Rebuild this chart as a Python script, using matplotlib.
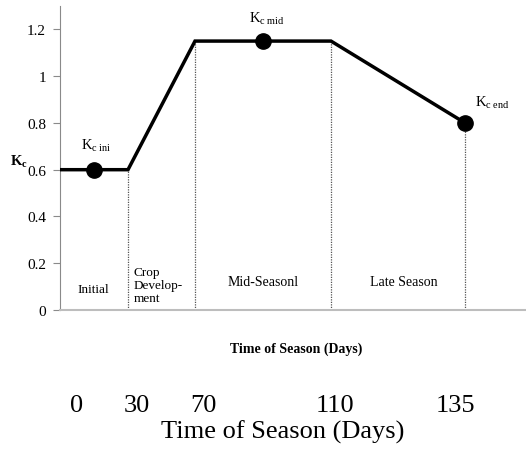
import numpy as np
import matplotlib
matplotlib.use("Agg")
import matplotlib.pyplot as plt

plt.rcParams['font.family'] = ['Liberation Serif', 'DejaVu Serif']
plt.rcParams['mathtext.fontset'] = 'custom'
plt.rcParams['mathtext.rm'] = 'Liberation Serif'
plt.rcParams['mathtext.it'] = 'Liberation Serif:italic'
plt.rcParams['mathtext.bf'] = 'Liberation Serif:bold'

# ---- data ----
stage_days = [0, 30, 70, 110, 135]          # stage boundaries (days)
kc_curve = [0.6, 0.6, 1.15, 1.15, 0.8]      # Kc at boundaries
kc_point_days = [15, 90, 135]
kc_point_vals = [0.6, 1.15, 0.8]
kc_point_labels = [r'$\mathrm{K_{c\ ini}}$', r'$\mathrm{K_{c\ mid}}$', r'$\mathrm{K_{c\ end}}$']
stage_names = ['Initial', 'Crop\nDevelop-\nment', 'Mid-Seasonl', 'Late Season']
y_ticks = [0, 0.2, 0.4, 0.6, 0.8, 1, 1.2]
y_tick_labels = ['0', '0.2', '0.4', '0.6', '0.8', '1', '1.2']
day_labels = ['0', '30', '70', '110', '135']

# ---- non-linear (piecewise) x-scale as drawn in the figure ----
disp_pos = np.array([0, 68, 135, 271, 405], dtype=float)
days_arr = np.array(stage_days, dtype=float)

def fwd(x):
    x = np.asarray(x, dtype=float)
    y = np.interp(x, days_arr, disp_pos)
    s_hi = (disp_pos[-1] - disp_pos[-2]) / (days_arr[-1] - days_arr[-2])
    s_lo = (disp_pos[1] - disp_pos[0]) / (days_arr[1] - days_arr[0])
    y = np.where(x > days_arr[-1], disp_pos[-1] + (x - days_arr[-1]) * s_hi, y)
    y = np.where(x < days_arr[0], disp_pos[0] + (x - days_arr[0]) * s_lo, y)
    return y

def inv(y):
    y = np.asarray(y, dtype=float)
    x = np.interp(y, disp_pos, days_arr)
    s_hi = (days_arr[-1] - days_arr[-2]) / (disp_pos[-1] - disp_pos[-2])
    s_lo = (days_arr[1] - days_arr[0]) / (disp_pos[1] - disp_pos[0])
    x = np.where(y > disp_pos[-1], days_arr[-1] + (y - disp_pos[-1]) * s_hi, x)
    x = np.where(y < disp_pos[0], days_arr[0] + (y - disp_pos[0]) * s_lo, x)
    return x

W, H = 526, 452
fig = plt.figure(figsize=(W / 100, H / 100), dpi=100)
ax = fig.add_axes([60 / W, 1 - 311 / H, 1 - 60 / W, (311 - 7) / H])
ax.set_xscale('function', functions=(fwd, inv))
ax.set_xlim(0, float(inv(466)))
ax.set_ylim(0, 1.3)

# curve
ax.plot(stage_days, kc_curve, color='black', lw=2.5, solid_joinstyle='miter', zorder=3)
# vertical dotted stage lines
for d, v in zip(stage_days[1:], kc_curve[1:]):
    ax.plot([d, d], [0, v], color='#555555', lw=0.9, ls=(0, (1, 1)), zorder=2)
# points
ax.plot(kc_point_days, kc_point_vals, 'o', color='black', ms=11, zorder=4)

# point labels
ax.text(15.8, 0.67, kc_point_labels[0], fontsize=10.5, ha='center', va='bottom')
ax.text(91, 1.215, kc_point_labels[1], fontsize=10.5, ha='center', va='bottom')
ax.text(140, 0.855, kc_point_labels[2], fontsize=10.5, ha='center', va='bottom')

# stage names
ax.text(14.5, 0.09, stage_names[0], fontsize=9.5, ha='center', va='center')
ax.text(33.2, 0.107, stage_names[1], fontsize=9.5, ha='left', va='center', linespacing=1.1)
ax.text(90, 0.12, stage_names[2], fontsize=10, ha='center', va='center')
ax.text(123.5, 0.12, stage_names[3], fontsize=10, ha='center', va='center')

# axes styling
for s in ['top', 'right']:
    ax.spines[s].set_visible(False)
ax.spines['left'].set_color('#8a8a8a')
ax.spines['bottom'].set_color('#bdbdbd')
ax.spines['bottom'].set_linewidth(1.5)
ax.set_xticks([])
ax.set_yticks(y_ticks)
ax.set_yticklabels(y_tick_labels, fontsize=11)
ax.tick_params(axis='y', direction='out', length=5, color='#8a8a8a', pad=5)

# Kc label
fig.text(10 / W, 1 - 162 / H, r'$\mathbf{K_c}$', fontsize=10.5, ha='left', va='center')

# small bold x title
fig.text(296 / W, 1 - 349 / H, 'Time of Season (Days)', fontsize=10,
         fontweight='bold', ha='center', va='center')

# large day labels and title
for lab, px in zip(day_labels, [77, 137, 203, 335, 455]):
    fig.text(px / W, 1 - 406 / H, lab, fontsize=19, ha='center', va='center')
fig.text(283 / W, 1 - 432 / H, 'Time of Season (Days)', fontsize=19, ha='center', va='center')

fig.savefig('out.png', dpi=100)
